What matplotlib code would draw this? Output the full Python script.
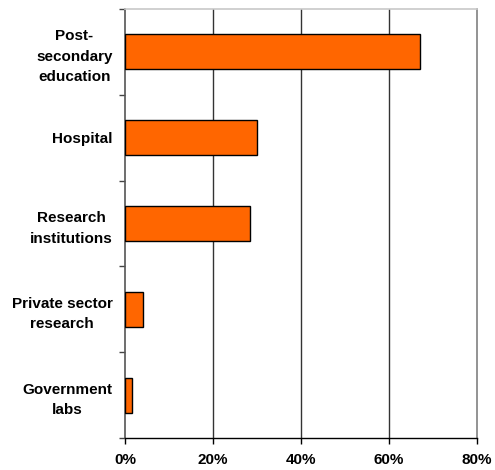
import matplotlib.pyplot as plt
from matplotlib.ticker import FixedLocator

categories = ["Post-\nsecondary\neducation", "Hospital", "Research\ninstitutions",
              "Private sector\nresearch", "Government\nlabs"]
shares = [67.1, 30.0, 28.5, 4.2, 1.5]
x_ticks = [0, 20, 40, 60, 80]
x_labels = ["0%", "20%", "40%", "60%", "80%"]

plt.rcParams['font.family'] = ['Liberation Sans', 'DejaVu Sans']

fig = plt.figure(figsize=(4.95, 4.70), dpi=100)
ax = fig.add_axes([125 / 495, 32 / 470, 351.7 / 495, 429 / 470])

ypos = list(range(len(categories)))[::-1]
ax.barh(ypos, shares, height=0.41, color="#FF6600", edgecolor="black",
        linewidth=1.0, zorder=3)

ax.set_xlim(0, 80)
ax.set_ylim(-0.5, len(categories) - 0.5)

# vertical gridlines
for x in x_ticks[1:-1]:
    ax.axvline(x, color="#333333", linewidth=1.0, zorder=1)

ax.set_xticks(x_ticks)
ax.set_xticklabels(x_labels, fontsize=11, fontweight="bold")
ax.tick_params(axis="x", direction="out", length=4, width=1, pad=7, color="black")

ax.set_yticks(ypos)
ax.set_yticklabels(categories, fontsize=11, fontweight="bold",
                   multialignment="center", linespacing=1.6)
ax.tick_params(axis="y", which="major", length=0, pad=9)
ax.yaxis.set_minor_locator(FixedLocator([i + 0.5 for i in range(-1, len(categories))]))
ax.tick_params(axis="y", which="minor", direction="out", length=4, width=1, color="#444444")

ax.spines["left"].set_color("#555555")
ax.spines["left"].set_linewidth(1.2)
ax.spines["bottom"].set_color("black")
ax.spines["bottom"].set_linewidth(1.0)
ax.spines["top"].set_color("#c8c8c8")
ax.spines["top"].set_linewidth(1.2)
ax.spines["right"].set_color("#808080")
ax.spines["right"].set_linewidth(1.2)

fig.savefig("out.png", dpi=100)
